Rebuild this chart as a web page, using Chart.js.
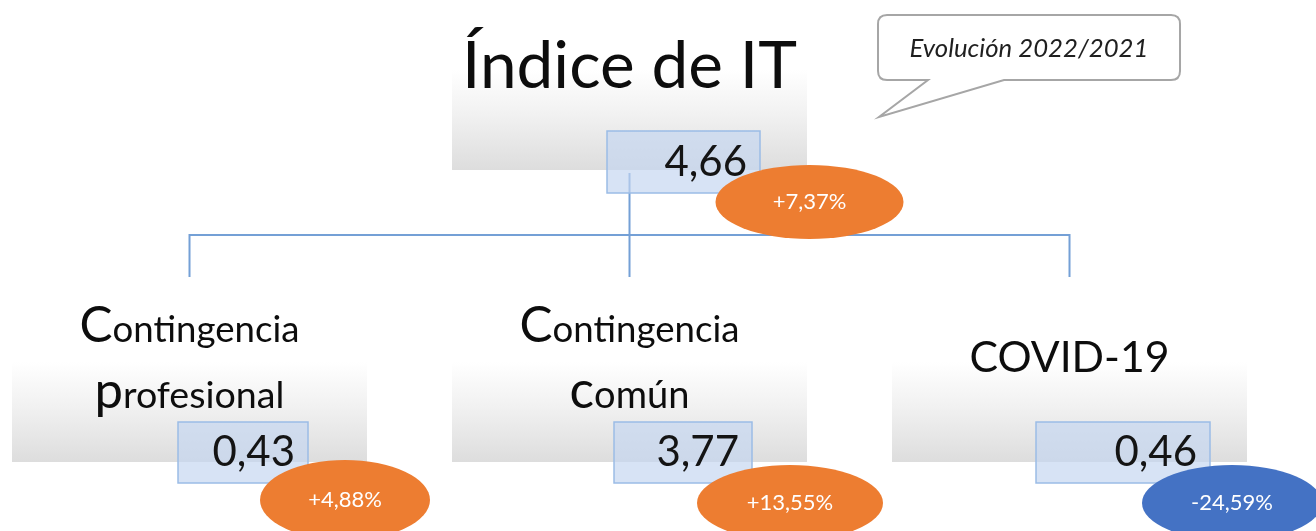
<!DOCTYPE html>
<html>
<head>
<meta charset="utf-8">
<script src="https://cdn.jsdelivr.net/npm/chart.js@4.4.1/dist/chart.umd.min.js"></script>
<style>
  html, body { margin: 0; padding: 0; background: #fff; }
  #wrap { width: 1316px; height: 531px; }
</style>
</head>
<body>
<div id="wrap"><canvas id="itChart"></canvas></div>
<script>
// data
const totalLabel = 'Índice de IT';
const totalValue = 4.66;
const totalChange = 7.37;
const categories = ['Contingencia profesional', 'Contingencia común', 'COVID-19'];
const categoryValues = [0.43, 3.77, 0.46];
const categoryChanges = [4.88, 13.55, -24.59];
const noteLabel = 'Evolución 2022/2021';

// layout (offsets from each node anchor = centre x, bottom of grey panel)
const FONT = 'Lato, "Open Sans", sans-serif';
const titleWidths = [[220, 190], [220, 120], [200]];
const valueBoxes = [[-11.5, 118.5], [-15.5, 122.5], [-33.5, 140.5]];
const badgeShapes = [[155.5, 38, 85, 40], [160.5, 41, 93, 38], [162.5, 41, 90, 38]];

const fmt = v => v.toFixed(2).replace('.', ',');
const fmtPct = v => (v >= 0 ? '+' : '-') + fmt(Math.abs(v)) + '%';

function drawRich(ctx, parts, cx, baseline, width, style) {
    const base = 40;
    let total = 0;
    parts.forEach(p => {
        ctx.font = `${style || ''} ${base * p.rel}px ${FONT}`;
        total += ctx.measureText(p.t).width;
    });
    const k = width / total;
    let x = cx - width / 2;
    ctx.textAlign = 'left';
    ctx.textBaseline = 'alphabetic';
    parts.forEach(p => {
        ctx.font = `${style || ''} ${base * p.rel * k}px ${FONT}`;
        ctx.fillText(p.t, x, baseline);
        x += ctx.measureText(p.t).width;
    });
}

function titleLines(label) {
    const words = label.split(' ');
    if (words.length === 1) return [[{ t: label, rel: 1 }]];
    return words.map(w => [{ t: w[0], rel: 1.35 }, { t: w.slice(1), rel: 1 }]);
}

function greyPanel(ctx, cx, by) {
    const g = ctx.createLinearGradient(0, by - 100, 0, by);
    g.addColorStop(0, 'rgba(255,255,255,1)');
    g.addColorStop(0.45, '#f1f1f1');
    g.addColorStop(1, '#dddddd');
    ctx.fillStyle = g;
    ctx.fillRect(cx - 177.5, by - 100, 355, 100);
}

function valueBox(ctx, x0, x1, y0, y1, value) {
    ctx.fillStyle = 'rgba(196,214,240,0.68)';
    ctx.fillRect(x0, y0, x1 - x0, y1 - y0);
    ctx.strokeStyle = '#9bbce6';
    ctx.lineWidth = 1.5;
    ctx.strokeRect(x0, y0, x1 - x0, y1 - y0);
    ctx.fillStyle = '#141414';
    ctx.font = `42px ${FONT}`;
    ctx.textAlign = 'right';
    ctx.textBaseline = 'alphabetic';
    ctx.fillText(fmt(value), x1 - 13, y1 - 17);
}

function badge(ctx, x, y, rx, ry, change) {
    ctx.beginPath();
    ctx.ellipse(x, y, rx, ry, 0, 0, Math.PI * 2);
    ctx.fillStyle = change >= 0 ? '#ed7d31' : '#4472c4';
    ctx.fill();
    ctx.fillStyle = '#ffffff';
    ctx.font = `22px ${FONT}`;
    ctx.textAlign = 'center';
    ctx.textBaseline = 'middle';
    ctx.fillText(fmtPct(change), x, y);
}

const treePlugin = {
    id: 'treePlugin',
    afterDatasetsDraw(chart) {
        const ctx = chart.ctx;
        const top = chart.getDatasetMeta(0).data[0];
        const kids = chart.getDatasetMeta(1).data;
        ctx.save();

        // connectors
        const barY = top.y + 65;
        const kidTop = kids[0].y - 185;
        ctx.strokeStyle = '#74a0d6';
        ctx.lineWidth = 2;
        ctx.beginPath();
        ctx.moveTo(top.x, top.y + 3);
        ctx.lineTo(top.x, kidTop);
        ctx.moveTo(kids[0].x, kidTop);
        ctx.lineTo(kids[0].x, barY);
        ctx.lineTo(kids[kids.length - 1].x, barY);
        ctx.lineTo(kids[kids.length - 1].x, kidTop);
        ctx.stroke();

        // top node
        greyPanel(ctx, top.x, top.y);
        ctx.fillStyle = '#0d0d0d';
        drawRich(ctx, [{ t: totalLabel, rel: 1 }], top.x, top.y - 82, 335);
        valueBox(ctx, top.x - 22.5, top.x + 130.5, top.y - 39, top.y + 23, totalValue);

        // child nodes
        kids.forEach((k, i) => {
            greyPanel(ctx, k.x, k.y);
            const lines = titleLines(categories[i]);
            const bases = lines.length === 1 ? [-90] : [-120, -54];
            ctx.fillStyle = '#0d0d0d';
            lines.forEach((ln, j) => drawRich(ctx, ln, k.x, k.y + bases[j], titleWidths[i][j]));
            valueBox(ctx, k.x + valueBoxes[i][0], k.x + valueBoxes[i][1], k.y - 40, k.y + 21, categoryValues[i]);
        });

        // badges on top
        badge(ctx, top.x + 180, top.y + 32, 94, 37, totalChange);
        kids.forEach((k, i) => {
            const s = badgeShapes[i];
            badge(ctx, k.x + s[0], k.y + s[1], s[2], s[3], categoryChanges[i]);
        });

        // speech bubble note
        const x0 = top.x + 248.5, x1 = top.x + 550.5, y0 = top.y - 155, y1 = top.y - 90, r = 9;
        ctx.beginPath();
        ctx.moveTo(x0 + r, y0);
        ctx.lineTo(x1 - r, y0);
        ctx.quadraticCurveTo(x1, y0, x1, y0 + r);
        ctx.lineTo(x1, y1 - r);
        ctx.quadraticCurveTo(x1, y1, x1 - r, y1);
        ctx.lineTo(top.x + 374.5, y1);
        ctx.lineTo(top.x + 249.5, top.y - 53);
        ctx.lineTo(top.x + 298.5, y1);
        ctx.lineTo(x0 + r, y1);
        ctx.quadraticCurveTo(x0, y1, x0, y1 - r);
        ctx.lineTo(x0, y0 + r);
        ctx.quadraticCurveTo(x0, y0, x0 + r, y0);
        ctx.closePath();
        ctx.fillStyle = '#ffffff';
        ctx.fill();
        ctx.strokeStyle = '#a6a6a6';
        ctx.lineWidth = 2;
        ctx.stroke();
        ctx.fillStyle = '#1f1f1f';
        drawRich(ctx, [{ t: noteLabel, rel: 1 }], (x0 + x1) / 2, y0 + 42, 239, 'italic');

        ctx.restore();
    }
};

const data = {
    datasets: [
        { label: totalLabel, data: [{ x: 1, y: 1 }], pointRadius: 0 },
        { label: 'Componentes', data: categories.map((c, i) => ({ x: i, y: 0 })), pointRadius: 0 }
    ]
};

const config = {
    type: 'scatter',
    data: data,
    options: {
        responsive: true,
        maintainAspectRatio: false,
        animation: false,
        layout: { padding: 0 },
        plugins: { legend: { display: false }, tooltip: { enabled: false } },
        scales: {
            x: { type: 'linear', display: false, min: -0.4307, max: 2.5602 },
            y: { type: 'linear', display: false, min: -0.2363, max: 1.5822 }
        }
    },
    plugins: [treePlugin]
};

const ctx = document.getElementById('itChart').getContext('2d');
const itChart = new Chart(ctx, config);
</script>
</body>
</html>
